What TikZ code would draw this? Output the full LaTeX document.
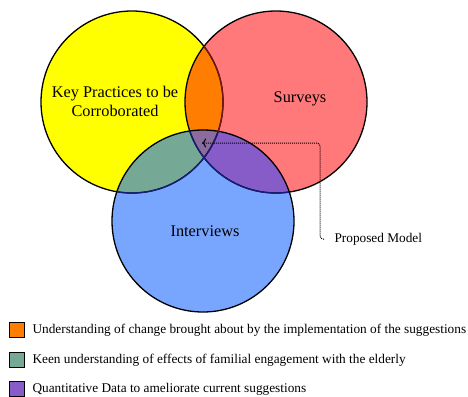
\documentclass[tikz,border=0pt]{standalone}
\usepackage{fontspec}
\setmainfont{Liberation Serif}
\usetikzlibrary{positioning,arrows.meta}
\definecolor{keyyellow}{RGB}{255,255,0}
\definecolor{survred}{RGB}{255,120,122}
\definecolor{intblue}{RGB}{120,166,255}
\definecolor{mixorange}{RGB}{255,125,0}
\definecolor{mixteal}{RGB}{118,168,150}
\definecolor{mixpurple}{RGB}{135,92,200}
\definecolor{mixcentre}{RGB}{140,108,158}
\definecolor{edgered}{RGB}{120,20,20}
\definecolor{edgeblue}{RGB}{20,30,120}
\begin{document}
\begin{tikzpicture}[x=1pt,y=-1pt,
	ring/.style={draw=black,line width=1.3pt},
	bigtext/.style={font=\fontsize{16.3}{19}\selectfont,align=center},
	keybox/.style={draw=black,line width=1.3pt,minimum size=15pt,inner sep=0pt},
	keytext/.style={font=\fontsize{13.3}{15}\selectfont,anchor=west}]
	\useasboundingbox (0,0) rectangle (468,396);
	\coordinate (ky) at (132,102);
	\coordinate (sv) at (276,102);
	\coordinate (iv) at (203,221);
	% circles and their overlaps
	\fill[keyyellow] (ky) circle (91);
	\fill[survred] (sv) circle (91);
	\fill[intblue] (iv) circle (91);
	\begin{scope}
		\clip (ky) circle (91);
		\fill[mixorange] (sv) circle (91);
		\fill[mixteal] (iv) circle (91);
		\clip (sv) circle (91);
		\fill[mixcentre] (iv) circle (91);
	\end{scope}
	\begin{scope}[even odd rule]
		\clip (sv) circle (91);
		\clip (ky) circle (91) (-10,-10) rectangle (480,410);
		\fill[mixpurple] (iv) circle (91);
	\end{scope}
	\draw[ring] (ky) circle (91);
	\draw[ring] (sv) circle (91);
	\draw[ring] (iv) circle (91);
	\begin{scope}
		\clip (sv) circle (91);
		\draw[ring,edgered] (ky) circle (91);
	\end{scope}
	\begin{scope}
		\clip (iv) circle (91);
		\draw[ring,edgeblue] (ky) circle (91);
		\draw[ring,edgeblue] (sv) circle (91);
	\end{scope}
	\node[bigtext] (kp) at (115,101) {Key Practices to be\\Corroborated};
	\node[bigtext] (su) at (300,99) {Surveys};
	\node[bigtext] (in) at (205,231) {Interviews};
	% proposed model pointer
	\node[font=\fontsize{13.3}{15}\selectfont,anchor=west] (pm) at (331,239) {Proposed Model};
	\coordinate (hub) at (202,143);
	\coordinate (bend) at (320,143);
	\draw[densely dotted,line width=1pt,rounded corners=3pt,-{To[length=4pt,width=9pt]}] ([xshift=-7pt]pm.west) -| (bend) -- (hub);
	% legend
	\node[keybox,fill=mixorange] (ka) at (17,330) {};
	\node[keybox,fill=mixteal] (kb) at (17,360) {};
	\node[keybox,fill=mixpurple] (kc) at (17,389) {};
	\node[keytext] (ta) at (29,330) {Understanding of change brought about by the implementation of the suggestions};
	\node[keytext] (tb) at (29,360) {Keen understanding of effects of familial engagement with the elderly};
	\node[keytext] (tc) at (29,389) {Quantitative Data to ameliorate current suggestions};
\end{tikzpicture}
\end{document}
